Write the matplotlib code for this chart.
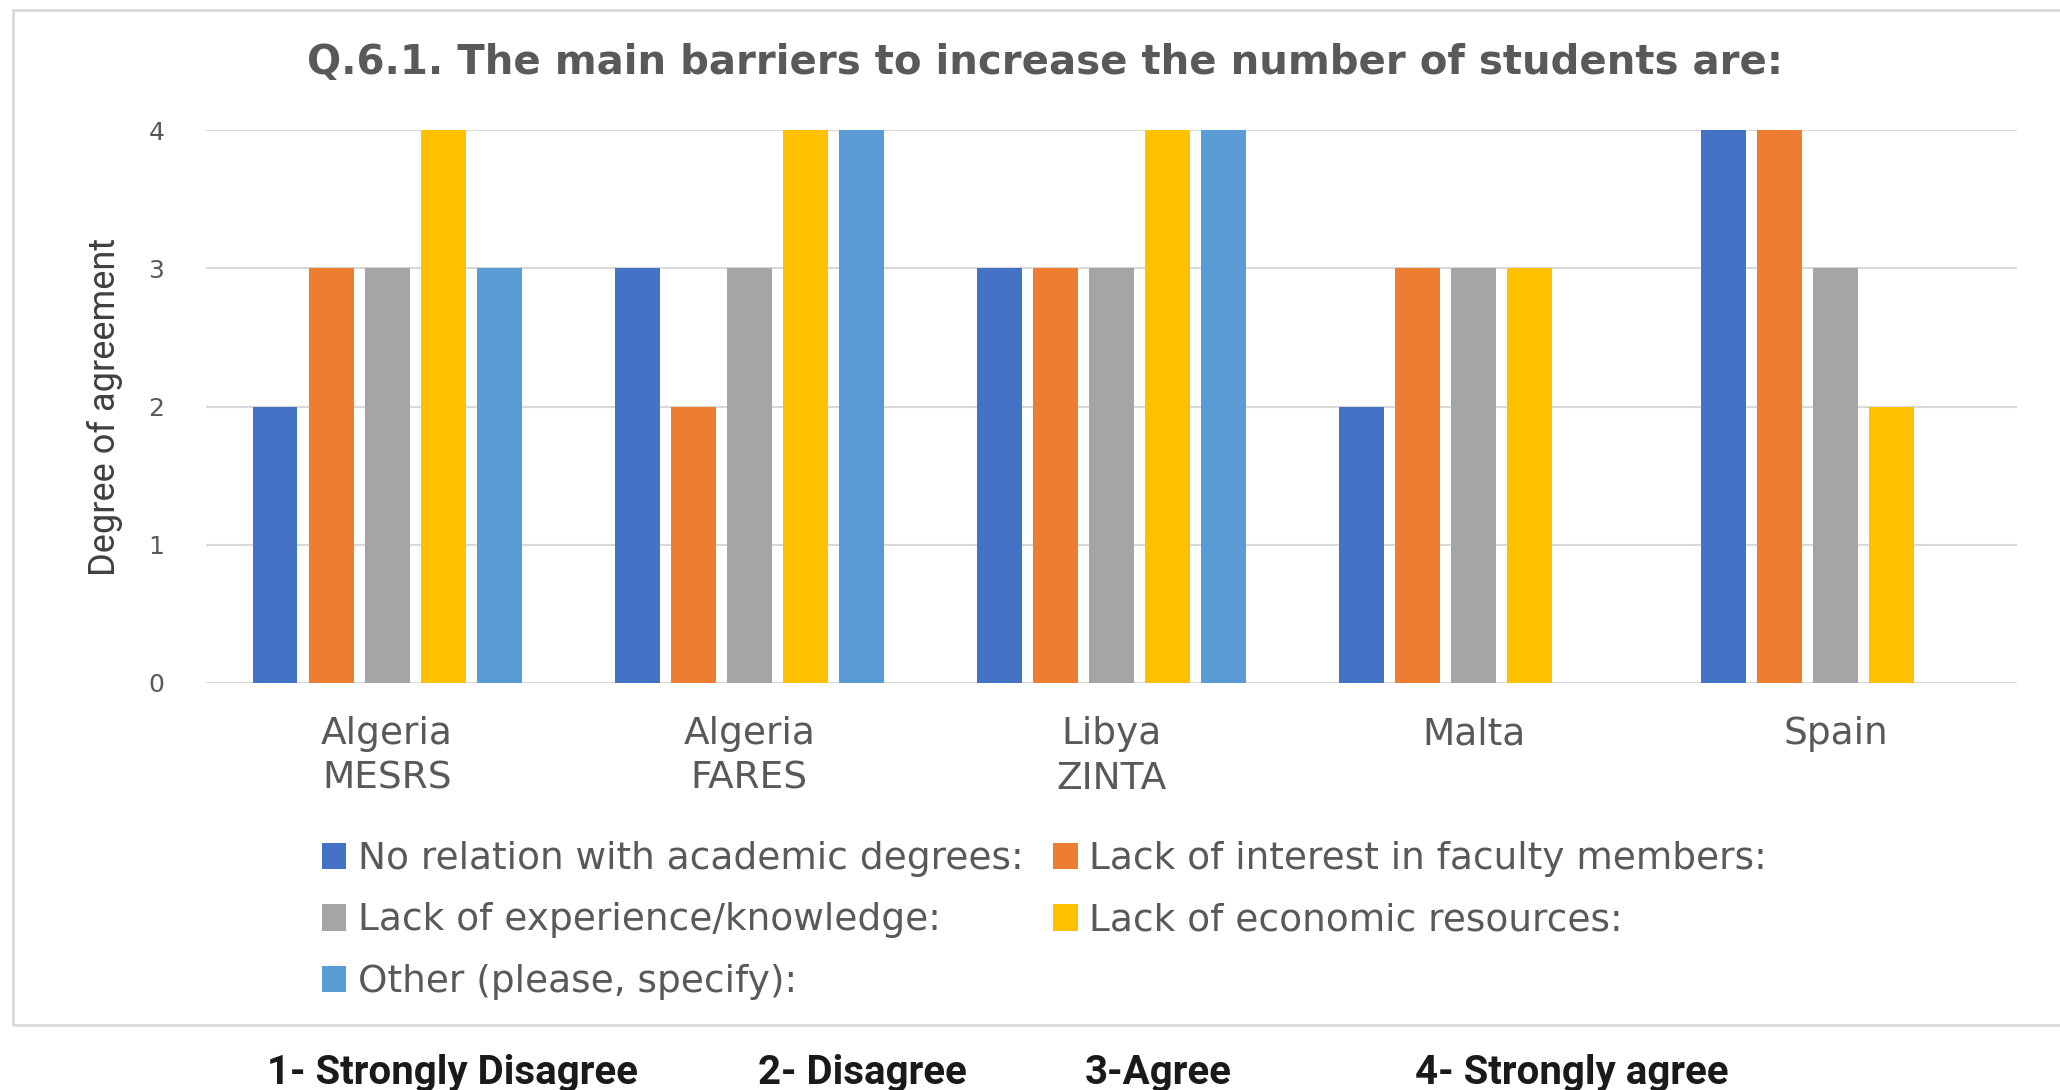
import matplotlib.pyplot as plt
import matplotlib.patches as mpatches
import numpy as np

# data
countries = ["Algeria\nMESRS", "Algeria\nFARES", "Libya\nZINTA", "Malta", "Spain"]
no_relation = [2, 3, 3, 2, 4]
lack_interest = [3, 2, 3, 3, 4]
lack_experience = [3, 3, 3, 3, 3]
lack_economic = [4, 4, 4, 3, 2]
other = [3, 4, 4, 0, 0]

series_names = ["No relation with academic degrees:",
                "Lack of interest in faculty members:",
                "Lack of experience/knowledge:",
                "Lack of economic resources:",
                "Other (please, specify):"]
colors = ["#4472C4", "#ED7D31", "#A5A5A5", "#FFC000", "#5B9BD5"]
scale_labels = ["1- Strongly Disagree", "2- Disagree", "3-Agree", "4- Strongly agree"]

W, H = 2060, 1090
fig = plt.figure(figsize=(W / 100, H / 100), dpi=100)

# outer chart border
fig.patches.append(mpatches.Rectangle((13 / W, 1 - 1025 / H), 1.2, (1025 - 10) / H,
                                      transform=fig.transFigure, fill=False,
                                      edgecolor="#D9D9D9", linewidth=2))

ax = fig.add_axes([206 / W, 1 - 683 / H, (2017 - 206) / W, (683 - 130) / H])

x = np.arange(len(countries))
step = 0.1547
width = 0.124
all_series = [no_relation, lack_interest, lack_experience, lack_economic, other]
handles = []
for j, vals in enumerate(all_series):
    b = ax.bar(x + (j - 2) * step, vals, width, color=colors[j], label=series_names[j], zorder=3)
    handles.append(b)

ax.set_xlim(-0.5, len(countries) - 0.5)
ax.set_ylim(0, 4)
ax.set_yticks([0, 1, 2, 3, 4])
ax.yaxis.grid(True, color="#D9D9D9", linewidth=1.5, zorder=0)
for s in ax.spines.values():
    s.set_visible(False)
ax.tick_params(length=0)
ax.tick_params(axis="y", labelsize=18, labelcolor="#595959", pad=30)
ax.set_xticks(x)
ax.set_xticklabels(countries, fontsize=27, color="#595959", linespacing=1.3)
ax.tick_params(axis="x", pad=24)

ax.set_ylabel("Degree of agreement", fontsize=26, color="#404040",
              family="Roboto", labelpad=18)

fig.text(1045 / W, 1 - 63 / H,
         "Q.6.1. The main barriers to increase the number of students are:",
         ha="center", va="center", fontsize=29, fontweight="bold", color="#595959")

# legend filled column-wise so rows read blue/orange, gray/yellow, other
order = [0, 2, 4, 1, 3]
leg = fig.legend([handles[i] for i in order], [series_names[i] for i in order],
                 ncol=2, loc="upper left", bbox_to_anchor=(292 / W, 1 - 811 / H),
                 frameon=False, fontsize=27, labelcolor="#595959",
                 handlelength=0.65, handleheight=0.7, handletextpad=0.3,
                 columnspacing=0.8, labelspacing=0.68, borderpad=0.3)

xs = [267, 758, 1085, 1415]
for lbl, xp in zip(scale_labels, xs):
    fig.text(xp / W, 1 - 1073 / H, lbl, ha="left", va="center", fontsize=29,
             fontweight="bold", color="#1a1a1a", family="Roboto")

fig.savefig("out.png", dpi=100)
